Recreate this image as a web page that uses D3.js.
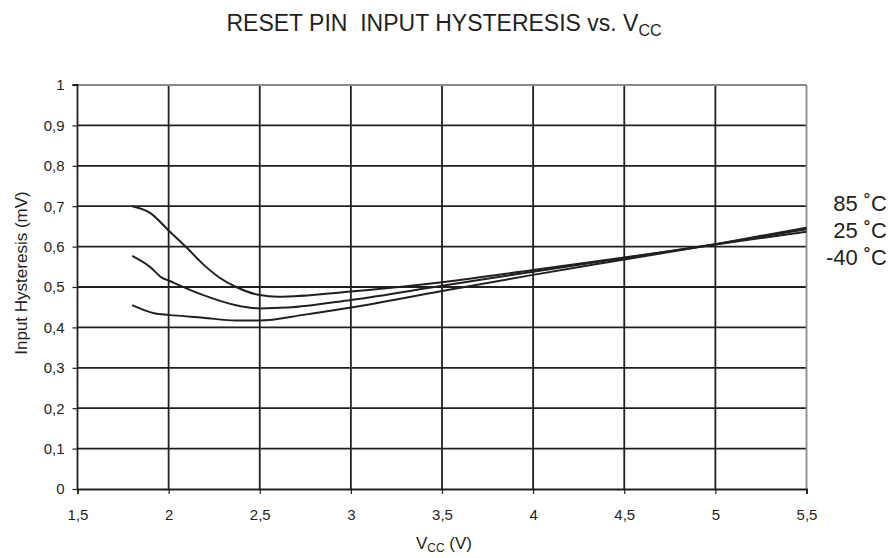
<!DOCTYPE html>
<html><head><meta charset="utf-8">
<script src="https://cdn.jsdelivr.net/npm/d3@7"></script>
<style>body{margin:0;background:#fff}svg{display:block}text{font-family:"Liberation Sans",Arial,sans-serif;fill:#231f20}</style>
</head><body><svg id="c" width="894" height="558"></svg>
<script>
const xTicks = [1.5,2,2.5,3,3.5,4,4.5,5,5.5];
const yTicks = [0,0.1,0.2,0.3,0.4,0.5,0.6,0.7,0.8,0.9,1];
const vcc85 = [1.8,1.9,2.0,2.1,2.19,2.28,2.37,2.5,2.6,3.0,3.5,4.0,4.5,5.0,5.5];
const h85   = [0.700,0.683,0.640,0.597,0.556,0.523,0.500,0.480,0.476,0.489,0.512,0.542,0.573,0.605,0.637];
const vcc25 = [1.8,1.9,1.96,2.0,2.19,2.37,2.5,2.65,3.0,3.5,4.0,4.5,5.0,5.5];
const h25   = [0.577,0.549,0.524,0.516,0.480,0.455,0.447,0.449,0.468,0.503,0.538,0.572,0.606,0.643];
const vccm40 = [1.8,1.92,2.0,2.19,2.37,2.5,2.74,3.0,3.5,4.0,4.5,5.0,5.5];
const hm40   = [0.455,0.435,0.431,0.424,0.417,0.417,0.431,0.449,0.490,0.530,0.568,0.606,0.647];
const seriesLabels = ["85 ˚C","25 ˚C","-40 ˚C"];

const svg = d3.select("#c");
const m = {l:77.5, r:806.5, t:85, b:489};
const x = d3.scaleLinear().domain([1.5,5.5]).range([m.l,m.r]);
const y = d3.scaleLinear().domain([0,1]).range([m.b,m.t]);
const fmt = d => String(d).replace(".",",");
const ink = "#231f20";

// grid
const g = svg.append("g");
g.selectAll(".vg").data(xTicks.slice(1,-1)).enter().append("line")
  .attr("x1",d=>x(d)).attr("x2",d=>x(d)).attr("y1",m.t).attr("y2",m.b)
  .attr("stroke",ink).attr("stroke-width",1.8);
g.selectAll(".hg").data(yTicks.slice(1,-1)).enter().append("line")
  .attr("x1",m.l).attr("x2",m.r).attr("y1",d=>y(d)).attr("y2",d=>y(d))
  .attr("stroke",ink).attr("stroke-width",1.8);
// top & right border (grey)
g.append("line").attr("x1",m.l).attr("x2",m.r).attr("y1",m.t).attr("y2",m.t).attr("stroke","#8a8a8a").attr("stroke-width",1.8);
g.append("line").attr("x1",m.r).attr("x2",m.r).attr("y1",m.t).attr("y2",m.b).attr("stroke","#8a8a8a").attr("stroke-width",1.8);

// axes
const xAxis = d3.axisBottom(x).tickValues(xTicks).tickFormat(fmt).tickSize(5).tickPadding(15);
const yAxis = d3.axisLeft(y).tickValues(yTicks).tickFormat(fmt).tickSize(5).tickPadding(8);
const ax = svg.append("g").attr("transform",`translate(0,${m.b})`).call(xAxis);
const ay = svg.append("g").attr("transform",`translate(${m.l},0)`).call(yAxis);
[ax,ay].forEach(a=>{
  a.attr("font-size",15);
  a.select(".domain").attr("stroke",ink).attr("stroke-width",1.8);
  a.selectAll(".tick line").attr("stroke",ink).attr("stroke-width",1.2);
  a.selectAll("text").attr("font-size",15).attr("fill",ink).style("font-family","'Liberation Sans',Arial,sans-serif");
});
ay.select(".domain").attr("d",`M-5,${m.t}H0V${m.b}`);

// curves
const line = d3.line().x(d=>x(d[0])).y(d=>y(d[1])).curve(d3.curveMonotoneX);
[[vcc85,h85],[vcc25,h25],[vccm40,hm40]].forEach(([xs,ys])=>{
  svg.append("path").datum(xs.map((v,i)=>[v,ys[i]])).attr("d",line)
    .attr("fill","none").attr("stroke",ink).attr("stroke-width",2);
});

// series labels
const ly = [203,230,257];
seriesLabels.forEach((t,i)=>{
  svg.append("text").attr("x",887).attr("y",ly[i]).attr("dy","0.35em").attr("text-anchor","end")
    .attr("font-size",22).text(t);
});

// title
const title = svg.append("text").attr("x",444).attr("y",31).attr("text-anchor","middle").attr("font-size",23)
  .attr("xml:space","preserve").style("white-space","pre");
title.append("tspan").text("RESET PIN  INPUT HYSTERESIS vs. V");
title.append("tspan").attr("font-size",16).attr("dy",5).text("CC");

// x title
const xt = svg.append("text").attr("x",444).attr("y",549).attr("text-anchor","middle").attr("font-size",17);
xt.append("tspan").text("V");
xt.append("tspan").attr("font-size",12).attr("dy",3).text("CC");
xt.append("tspan").attr("dy",-3).text(" (V)");

// y title
svg.append("text").attr("transform","translate(27,273) rotate(-90)").attr("text-anchor","middle")
  .attr("font-size",17).text("Input Hysteresis (mV)");
</script></body></html>
